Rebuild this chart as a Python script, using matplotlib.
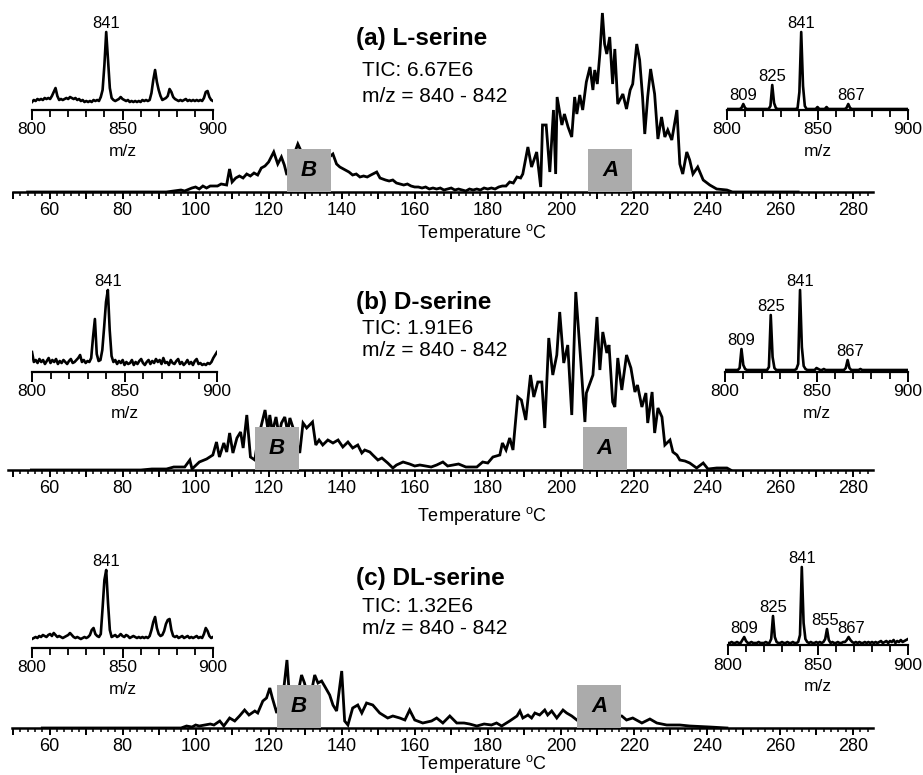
import numpy as np
import matplotlib
matplotlib.use("Agg")
import matplotlib.pyplot as plt
from matplotlib.patches import Rectangle
from matplotlib.ticker import MultipleLocator, FixedLocator, FuncFormatter

plt.rcParams['font.family'] = ['Liberation Sans', 'DejaVu Sans']
plt.rcParams['mathtext.fontset'] = 'custom'
plt.rcParams['mathtext.rm'] = 'Liberation Sans'
plt.rcParams['mathtext.it'] = 'Liberation Sans:italic'
plt.rcParams['mathtext.bf'] = 'Liberation Sans:bold'

# ---------------------------------------------------------------- data
samples = ["(a) L-serine", "(b) D-serine", "(c) DL-serine"]
tic_values = ["6.67E6", "1.91E6", "1.32E6"]
mz_window = "840 - 842"

# extracted ion thermograms, (temperature in degC, intensity a.u.)
trace_a = [(54, 0), (92, 0), (94, 1), (96, 2), (97, 1), (99, 4), (100, 5), (101, 3), (102, 6),
           (103, 4), (104, 6), (106, 6), (107, 8), (108.5, 7), (109.3, 23), (110, 10), (111, 14),
           (112, 16), (113, 14), (114, 18), (115, 16), (116, 19), (117, 17), (118, 24), (119, 26),
           (120, 30), (121.4, 40), (122.5, 28), (123.5, 35), (124.3, 27), (125, 17), (126, 30),
           (127, 38), (128, 48), (129, 40), (130, 38), (131, 35), (132, 36), (133, 32), (134, 34),
           (135, 30), (136, 33), (137.6, 38), (138.6, 28), (139.5, 25), (141, 22), (142, 20),
           (143, 17), (144, 18), (145, 15), (146, 16), (147, 15), (148, 17), (149.6, 20),
           (150.5, 14), (152, 12), (153, 11), (154, 12), (155, 9), (156, 8), (157, 7), (158, 8),
           (159, 6), (160, 5), (161, 5), (162, 4), (163, 5), (164, 3), (165, 4), (166, 3),
           (167, 4), (168, 2), (169, 3), (170, 4), (171, 2), (172, 3), (173, 2), (174, 1),
           (175, 3), (176, 2), (177, 3), (178, 2), (179, 4), (180, 3), (181, 4), (182, 3),
           (183, 5), (184, 6), (185, 6), (186, 10), (187, 9), (188, 15), (189, 14), (189.6, 18),
           (191, 45), (192, 25), (193.4, 40), (194.5, 5), (195, 67), (196, 67), (197, 20),
           (198, 82), (198.6, 18), (199, 95), (200.3, 67), (201, 78), (202, 65), (203, 55),
           (203.8, 95), (204.4, 78), (205.2, 97), (206, 82), (207, 110), (208, 125),
           (208.8, 102), (209.3, 122), (210, 108), (210.7, 138), (211.4, 179), (212, 148),
           (212.6, 138), (213.4, 155), (214.2, 108), (214.8, 143), (215.6, 88), (217, 98),
           (218, 83), (219, 102), (219.7, 108), (220.8, 148), (221.6, 132), (222.4, 95),
           (223, 58), (223.8, 95), (224.6, 123), (225.7, 98), (226.6, 53), (227.6, 75),
           (228.5, 55), (229.3, 62), (230.4, 52), (231.8, 82), (232.6, 28), (233.4, 18),
           (234.5, 40), (235.3, 32), (236.2, 18), (237.5, 25), (239, 12), (240.8, 7),
           (242.7, 3), (245.5, 2), (247, 0), (265, 0)]

trace_b = [(55, 0), (85, 0), (88, 1), (92, 1), (94, 3), (97, 3), (98.4, 10), (99, 1), (101, 8),
           (103, 11), (104.7, 15), (105.7, 28), (106.5, 13), (107.7, 27), (108.5, 18),
           (109.3, 37), (110.2, 17), (111.3, 32), (112.3, 38), (113, 22), (114, 55), (115, 13),
           (116.2, 10), (117, 30), (118, 45), (119, 60), (119.8, 40), (120.3, 55), (121, 38),
           (122, 53), (122.8, 35), (123.5, 47), (124.4, 53), (125.2, 38), (125.8, 52),
           (126.6, 43), (127.5, 30), (128.5, 17), (129.4, 47), (130.4, 42), (131.2, 45),
           (132, 48), (132.9, 25), (133.8, 30), (134.8, 25), (136.2, 30), (137.6, 27), (139, 30),
           (140.3, 23), (141.7, 28), (143, 22), (144.4, 25), (145.5, 17), (146.3, 20),
           (147.7, 18), (148.5, 15), (149.9, 10), (151, 12), (152.6, 7), (154, 2), (155, 5),
           (156.8, 8), (158.6, 6), (160, 4), (161.4, 5), (164.5, 3), (166, 5), (167.7, 8),
           (169, 4), (170.5, 5), (172, 6), (174, 3), (177, 3), (178.6, 8), (180, 7),
           (181.4, 13), (183.3, 15), (184, 27), (185, 20), (186, 32), (186.9, 20), (188.2, 73),
           (189.2, 70), (190.4, 50), (191.7, 95), (192.6, 73), (193.7, 88), (194.8, 88),
           (195.6, 42), (196.7, 132), (197.8, 95), (198.9, 115), (199.7, 158), (200.8, 107),
           (201.9, 125), (203, 55), (204.1, 178), (205.5, 107), (206.6, 48), (207, 77),
           (208.8, 95), (209.9, 153), (210.7, 100), (211.5, 138), (212.6, 117), (213.2, 125),
           (214.2, 68), (214.8, 63), (215.6, 112), (216.7, 80), (218, 115), (219.2, 102),
           (220.3, 78), (221, 85), (222.2, 63), (223.3, 77), (223.8, 47), (225, 78),
           (225.7, 37), (226.6, 62), (227.7, 53), (228.5, 25), (229.9, 30), (230.7, 18),
           (231.8, 15), (232.6, 10), (234, 9), (235.3, 7), (237.2, 2), (239, 7), (240.3, 1),
           (242.7, 2), (245.5, 2), (246.5, 0)]

trace_c = [(58, 0), (96, 0), (97.5, 2), (99, 1), (100, 3), (101, 2), (102.5, 3), (104, 4),
           (105, 3), (106.6, 7), (107.7, 2), (109.3, 10), (110.7, 7), (112, 12), (113.4, 18),
           (114.6, 13), (116.2, 17), (117, 15), (118.4, 27), (119.4, 30), (120.3, 40), (121, 30),
           (122.2, 15), (123, 25), (124, 35), (125, 68), (125.7, 30), (126.5, 35), (127.5, 25),
           (129, 53), (129.8, 45), (130.8, 30), (131.8, 38), (132.6, 53), (133.5, 45),
           (134.5, 47), (135.3, 42), (136.7, 33), (137.6, 23), (138.6, 17), (140, 57),
           (140.8, 7), (141.7, 3), (143, 20), (144.4, 23), (145.5, 15), (146.8, 25),
           (148.5, 23), (150.4, 15), (152.6, 10), (154, 12), (155.9, 10), (157.3, 8),
           (158.6, 18), (160, 8), (162.2, 5), (164.6, 7), (166, 10), (167.7, 5), (169.6, 12),
           (171.5, 5), (173.5, 5), (175, 4), (177, 2), (179, 4), (181, 3), (182.4, 5),
           (183.8, 2), (186, 7), (188, 12), (188.8, 17), (189.6, 10), (191, 13), (192, 10),
           (192.9, 15), (194.2, 13), (195.6, 18), (196.4, 13), (197.5, 17), (198.9, 10),
           (200.6, 18), (201.6, 15), (203, 12), (204.4, 8), (206, 12), (210, 14), (214, 12),
           (216.7, 12), (218, 8), (219.7, 10), (222.2, 5), (224.4, 9), (226.3, 5), (229, 3),
           (232.6, 3), (235.3, 2), (240.8, 1), (245.5, 0)]

# temperature windows (degC) of the two desorption regions
region_b_start = [125.0, 116.2, 122.2]
region_a_start = [207.4, 206.0, 204.4]
region_width = 12.2

# mass spectra, m/z 800-900 in unit steps
mz = np.arange(800, 901)
spec_b_region = [
    [8, 10, 9, 11, 10, 11, 10, 12, 11, 12,
     11, 14, 18, 22, 14, 10, 11, 10, 11, 12,
     11, 13, 12, 11, 12, 10, 11, 9, 10, 8,
     9, 8, 9, 8, 10, 9, 10, 9, 13, 20,
     45, 78, 50, 22, 12, 10, 9, 10, 11, 13,
     11, 10, 9, 10, 8, 9, 8, 9, 8, 9,
     8, 10, 9, 10, 9, 10, 17, 30, 40, 28,
     20, 14, 10, 11, 12, 14, 21, 18, 13, 11,
     10, 9, 10, 9, 10, 11, 9, 10, 9, 10,
     9, 10, 9, 10, 9, 12, 18, 19, 13, 10,
     9],
    [20, 10, 12, 9, 13, 10, 12, 8, 11, 14,
     9, 12, 10, 13, 8, 11, 9, 12, 10, 8,
     11, 13, 9, 10, 12, 14, 17, 10, 12, 9,
     11, 10, 14, 35, 53, 18, 11, 12, 22, 45,
     70, 82, 42, 16, 10, 12, 8, 11, 9, 12,
     7, 10, 8, 9, 12, 7, 10, 8, 11, 13,
     9, 7, 10, 12, 8, 11, 9, 13, 10, 12,
     8, 14, 9, 10, 7, 12, 9, 8, 11, 13,
     8, 10, 7, 9, 12, 8, 10, 7, 11, 13,
     8, 9, 7, 8, 7, 9, 8, 10, 14, 17,
     20],
    [9, 10, 11, 10, 12, 11, 13, 12, 11, 13,
     14, 12, 15, 13, 11, 12, 11, 10, 11, 12,
     13, 15, 13, 11, 10, 11, 10, 9, 10, 11,
     10, 11, 13, 18, 20, 14, 12, 11, 14, 40,
     68, 78, 45, 18, 11, 12, 13, 11, 12, 14,
     12, 11, 13, 12, 10, 11, 12, 11, 10, 11,
     10, 11, 10, 11, 10, 12, 18, 26, 31, 20,
     14, 12, 13, 17, 24, 28, 29, 18, 12, 11,
     12, 10, 11, 12, 10, 11, 12, 10, 11, 10,
     11, 12, 10, 11, 10, 14, 20, 17, 12, 10,
     11],
]
spec_a_region = [
    [1, 1, 1, 1, 1, 1, 1, 1, 2, 6,
     2, 1, 1, 1, 1, 1, 1, 1, 1, 1,
     1, 1, 1, 1, 4, 25, 7, 2, 1, 1,
     1, 1, 1, 1, 1, 1, 1, 1, 1, 2,
     18, 78, 24, 4, 1, 1, 1, 1, 1, 1,
     3, 1, 1, 1, 1, 3, 1, 1, 1, 1,
     1, 1, 1, 1, 1, 1, 2, 6, 2, 1,
     1, 1, 1, 1, 1, 1, 1, 1, 1, 1,
     1, 1, 1, 1, 1, 1, 1, 1, 1, 1,
     1, 1, 1, 1, 1, 1, 1, 1, 1, 1,
     1],
    [2, 2, 2, 2, 2, 2, 2, 2, 4, 23,
     7, 3, 2, 2, 2, 2, 2, 2, 2, 2,
     2, 2, 2, 2, 5, 57, 15, 4, 2, 2,
     2, 2, 2, 2, 2, 2, 2, 2, 2, 3,
     8, 82, 25, 6, 3, 2, 2, 2, 2, 2,
     4, 3, 2, 2, 3, 2, 2, 2, 2, 2,
     2, 2, 2, 2, 2, 2, 4, 12, 4, 2,
     2, 2, 2, 2, 3, 2, 2, 2, 2, 2,
     2, 2, 2, 2, 2, 2, 2, 2, 2, 2,
     2, 2, 2, 2, 2, 2, 2, 2, 2, 2,
     2],
    [2, 2, 3, 2, 2, 3, 2, 2, 5, 8,
     4, 2, 2, 3, 2, 2, 2, 3, 2, 2,
     2, 3, 2, 2, 6, 29, 8, 3, 2, 2,
     3, 2, 2, 3, 2, 2, 3, 2, 2, 3,
     10, 78, 22, 6, 3, 2, 3, 2, 2, 3,
     2, 3, 2, 3, 6, 16, 5, 2, 3, 2,
     2, 3, 2, 2, 3, 3, 5, 8, 5, 3,
     2, 3, 2, 3, 2, 2, 3, 2, 3, 2,
     3, 2, 3, 2, 3, 4, 2, 3, 4, 2,
     4, 3, 5, 2, 4, 3, 5, 3, 4, 5,
     6],
]
peaks_b_region = [[841], [841], [841]]
peaks_a_region = [[809, 825, 841, 867], [809, 825, 841, 867], [809, 825, 841, 855, 867]]

# ---------------------------------------------------------------- layout (pixels)
W, H = 923, 775
fig = plt.figure(figsize=(W / 100, H / 100), dpi=100)

def px_axes(x0, x1, ybase, height):
    ax = fig.add_axes([x0 / W, 1 - ybase / H, (x1 - x0) / W, height / H])
    ax.patch.set_alpha(0)
    for s in ("left", "right", "top"):
        ax.spines[s].set_visible(False)
    ax.set_yticks([])
    return ax

main_base = [192, 470, 728]
main_left = [13, 8, 12]
main_xmin = [50.0, 48.6, 49.7]
title_y = [39, 303, 579]
tic_y = [71, 328, 606]
mzwin_y = [97, 351, 629]
tlabel_y = [233, 516, 764]
left_inset = [(32, 213, 110), (32, 217, 372), (32, 213, 648)]
right_inset = [(727, 908, 110), (725, 908, 372), (728, 908, 645)]
label_dx = {867: 2, 855: -1}

traces = [trace_a, trace_b, trace_c]
BOX_H = 43
MAIN_H = 187

for i in range(3):
    ax = px_axes(main_left[i], 873, main_base[i], MAIN_H)
    ax.set_xlim(main_xmin[i], 285.5)
    ax.set_ylim(0, MAIN_H)
    t, s = zip(*traces[i])
    ax.plot(t, s, color="black", lw=2.0, zorder=2, solid_joinstyle="miter")
    ax.spines["bottom"].set_linewidth(1.8)
    ax.xaxis.set_major_locator(MultipleLocator(10))
    ax.xaxis.set_minor_locator(MultipleLocator(2))
    ax.xaxis.set_major_formatter(FuncFormatter(lambda v, p: f"{v:.0f}" if round(v) % 20 == 0 else ""))
    ax.tick_params(axis="x", which="major", length=5, width=1.4, direction="out",
                   labelsize=13, pad=2)
    ax.tick_params(axis="x", which="minor", length=3, width=1.1, direction="out")
    tr = ax.get_xaxis_transform()
    for start, letter in ((region_b_start[i], "B"), (region_a_start[i], "A")):
        ax.add_patch(Rectangle((start, 0), region_width, BOX_H / MAIN_H, transform=tr,
                               facecolor="#ababab", edgecolor="none", zorder=3))
        ax.text(start + region_width / 2, BOX_H / MAIN_H / 2, letter, transform=tr,
                ha="center", va="center", fontsize=16, fontweight="bold",
                fontstyle="italic", zorder=4)

    fig.text(356 / W, 1 - title_y[i] / H, samples[i], ha="left", va="center",
             fontsize=17.5, fontweight="bold")
    fig.text(362 / W, 1 - tic_y[i] / H, f"TIC: {tic_values[i]}", ha="left", va="center",
             fontsize=15)
    fig.text(362 / W, 1 - mzwin_y[i] / H, f"m/z = {mz_window}", ha="left", va="center",
             fontsize=15)
    fig.text(482 / W, 1 - tlabel_y[i] / H, r"Temperature $^{\mathrm{o}}$C", ha="center",
             va="center", fontsize=13)

    for (x0, x1, yb), spec, peaks in ((left_inset[i], spec_b_region[i], peaks_b_region[i]),
                                      (right_inset[i], spec_a_region[i], peaks_a_region[i])):
        ia = px_axes(x0, x1, yb, 100)
        ia.set_xlim(800, 900)
        ia.set_ylim(0, 100)
        ia.plot(mz, spec, color="black", lw=1.9, zorder=2)
        ia.spines["bottom"].set_linewidth(1.6)
        ia.xaxis.set_major_locator(FixedLocator([800, 850, 900]))
        ia.xaxis.set_minor_locator(MultipleLocator(10))
        ia.tick_params(axis="x", which="major", length=7, width=1.4, direction="out",
                       labelsize=12.5, pad=2)
        ia.tick_params(axis="x", which="minor", length=5, width=1.3, direction="out")
        ia.set_xlabel("m/z", fontsize=12.5, labelpad=5)
        for p in peaks:
            ia.annotate(str(p), (p, spec[p - 800]), xytext=(label_dx.get(p, 0), 1),
                        textcoords="offset points", ha="center", va="bottom", fontsize=12)

fig.savefig("out.png", dpi=100)
